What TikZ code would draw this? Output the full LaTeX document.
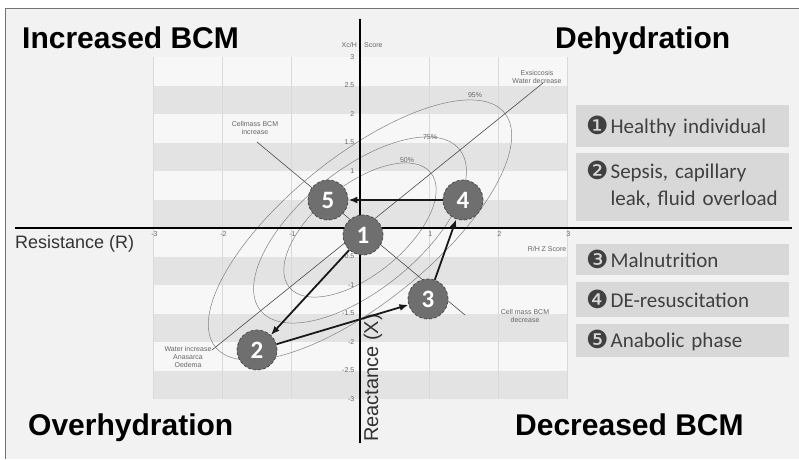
\documentclass[tikz,border=0pt]{standalone}
\usepackage{fontspec}
\setmainfont{Liberation Sans}
\newfontfamily\legfont{Carlito}
\newfontfamily\dingfont{DejaVu Sans}
\usetikzlibrary{arrows.meta}

\definecolor{framebg}{HTML}{F2F2F2}
\definecolor{bandlight}{HTML}{F7F7F7}
\definecolor{banddark}{HTML}{E3E3E3}
\definecolor{legfill}{HTML}{D8D8D8}
\definecolor{legtext}{HTML}{404040}
\definecolor{phasefill}{HTML}{6F6F6F}

\newcommand{\legnum}[1]{{\dingfont\fontsize{25}{25}\selectfont\raisebox{-1pt}{#1}}\hspace{2pt}}

\begin{document}
\begin{tikzpicture}[x=1pt,y=1pt,
    quadlabel/.style={font=\bfseries\fontsize{30}{30}\selectfont, anchor=base west, inner sep=0pt},
    axislabel/.style={font=\fontsize{18}{18}\selectfont, text=black!80, inner sep=0pt},
    phase/.style={circle, minimum size=40pt, inner sep=0pt, fill=phasefill, draw=black!70,
        densely dashed, line width=0.8pt, text=white, font=\legfont\bfseries\fontsize{25}{25}\selectfont},
    move/.style={line width=1.8pt, black!90, -{Latex[length=9pt,width=7pt]}},
    legbox/.style={anchor=west, fill=legfill, text=legtext, text width=193pt, inner xsep=10pt,
        align=left, font=\legfont\fontsize{21}{27}\selectfont},
    small/.style={font=\fontsize{7}{8}\selectfont, text=black!60, align=center, inner sep=0pt},
    ellipseline/.style={black!50, line width=0.5pt},
  ]
    \useasboundingbox (0,0) rectangle (799,459);

    % frame
    \fill[white] (0,0) rectangle (799,459);
    \fill[framebg] (5,0) rectangle (799,451);
    \draw[black!55, line width=0.8pt] (5,0) -- (5,451) -- (799,451);

    % score grid
    \begin{scope}[shift={(360pt,231pt)}, x=69pt, y=57pt]
        \fill[bandlight] (-3,-3) rectangle (3,3);
        \foreach \y in {-3,...,2}
            \fill[banddark] (-3,\y) rectangle (3,\y+0.5);
        \foreach \x in {-3,...,3}
            \draw[black!15, line width=0.4pt] (\x,-3) -- (\x,3);

        \foreach \y in {3,2.5,2,1.5,1,-0.5,-1,-1.5,-2,-2.5,-3}
            \node[small, anchor=east] (ytick) at (-0.08,\y) {\y};
        \foreach \x in {-3,-2,-1,1,2,3}
            \node[small, anchor=north] (xtick) at (\x+0.02,-0.06) {\x};
    \end{scope}

    % tolerance ellipses
    \draw[ellipseline] (360,229) circle [x radius=91pt, y radius=45pt, rotate=39];
    \draw[ellipseline] (360,229) circle [x radius=128pt, y radius=60pt, rotate=39];
    \draw[ellipseline] (360,229) circle [x radius=186pt, y radius=73pt, rotate=39];
    \node[small] (p50) at (407,299) {50\%};
    \node[small] (p75) at (430,322) {75\%};
    \node[small] (p95) at (475,364) {95\%};

    % major and minor axis with labels
    \node[small] (exs) at (537,382) {Exsiccosis\\Water decrease};
    \node[small] (wat) at (188,102) {Water increase\\Anasarca\\Oedema};
    \node[small] (cmi) at (255,331) {Cellmass BCM\\increase};
    \node[small] (cmd) at (525,143) {Cell mass BCM\\decrease};
    \coordinate (exsend) at (543,376);
    \coordinate (watend) at (212,109);
    \coordinate (cmiend) at (257,317);
    \coordinate (cmdend) at (465,144);
    \draw[black!70, line width=0.6pt] (exsend) -- (watend);
    \draw[black!70, line width=0.6pt] (cmiend) -- (cmdend);

    \node[small, anchor=east] (xcsc) at (357,414) {Xc/H};
    \node[small, anchor=west] (xcsr) at (364,414) {Score};
    \node[small] (rhz) at (547,210) {R/H Z Score};

    % axes
    \coordinate (rleft) at (15,231);
    \coordinate (rright) at (792,231);
    \coordinate (xtop) at (360,440);
    \coordinate (xbot) at (360,16);
    \draw[line width=1.6pt] (rleft) -- (rright);
    \draw[line width=1.6pt] (xtop) -- (xbot);
    \node[axislabel, anchor=west] (res) at (15,215) {Resistance (R)};
    \node[axislabel, rotate=90, anchor=west, font=\fontsize{20}{20}\selectfont] (rea) at (373,17) {Reactance (X)};

    % phases
    \node[phase] (n1) at (363,224) {1};
    \node[phase] (n2) at (257,109) {2};
    \node[phase] (n3) at (428,160) {3};
    \node[phase] (n4) at (463,259) {4};
    \node[phase] (n5) at (328,259) {5};

    \draw[move] (n1) -- (n2);
    \draw[move] (n2) -- (n3);
    \draw[move] (n3) -- (n4);
    \draw[move] (n4) -- (n5);

    % quadrants
    \node[quadlabel] (incr) at (22,410) {Increased BCM};
    \node[quadlabel] (dehy) at (555,410) {Dehydration};
    \node[quadlabel] (over) at (28,24) {Overhydration};
    \node[quadlabel] (decr) at (515,24) {Decreased BCM};

    % legend
    \node[legbox, minimum height=42pt] (leg1) at (576,333) {\legnum{❶}Healthy individual};
    \node[legbox, minimum height=68pt] (leg2) at (576,272)
        {\legnum{❷}\begin{tabular}[t]{@{}l@{}}Sepsis, capillary\\leak, fluid overload\end{tabular}};
    \node[legbox, minimum height=31pt] (leg3) at (576,200) {\legnum{❸}Malnutrition};
    \node[legbox, minimum height=35pt] (leg4) at (576,160) {\legnum{❹}DE-resuscitation};
    \node[legbox, minimum height=33pt] (leg5) at (576,119) {\legnum{❺}Anabolic phase};

\end{tikzpicture}
\end{document}
